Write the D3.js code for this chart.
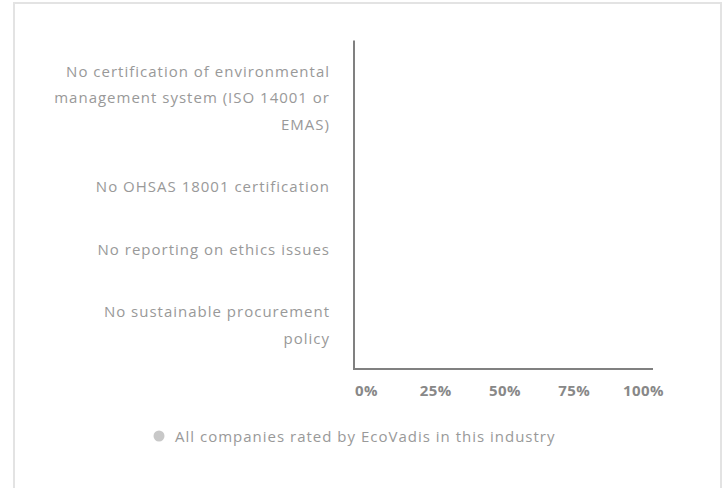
<!DOCTYPE html>
<html>
<head>
<meta charset="utf-8">
<script src="https://cdn.jsdelivr.net/npm/d3@7"></script>
<style>
  body { margin: 0; background: #fff; }
  svg { display: block; font-family: "Open Sans", "Noto Sans", sans-serif; }
</style>
</head>
<body>
<script>
// chart data
var categories = [
  ['No certification of environmental', 'management system (ISO 14001 or', 'EMAS)'],
  ['No OHSAS 18001 certification'],
  ['No reporting on ethics issues'],
  ['No sustainable procurement', 'policy']
];
var industryValues = [0, 0, 0, 0];
var tickValues = [0, 25, 50, 75, 100];
var seriesName = 'All companies rated by EcoVadis in this industry';

var width = 728, height = 488;
var lineH = 26.5, rowPad = 18;
var plotTop = 40.5, axisX = 354, labelRight = 330;

var svg = d3.select(document.body).append('svg')
    .attr('width', width)
    .attr('height', height);

// panel border
svg.append('rect')
    .attr('x', 14).attr('y', 3)
    .attr('width', 707).attr('height', 520)
    .attr('fill', 'none')
    .attr('stroke', '#e3e3e3')
    .attr('stroke-width', 2);

// rows grow with the number of label lines
var rows = [], yPos = plotTop;
categories.forEach(function(lines, i) {
  var h = lines.length * lineH + 2 * rowPad;
  rows.push({lines: lines, value: industryValues[i], y0: yPos, h: h});
  yPos += h;
});
var plotBottom = yPos;

var x = d3.scaleLinear().domain([0, 100]).range([axisX, 653]);

// bars (all zero in the reference)
svg.selectAll('.bar').data(rows).enter()
    .append('rect')
    .attr('class', 'bar')
    .attr('x', x(0))
    .attr('y', function(d) { return d.y0 + d.h / 2 - 10; })
    .attr('height', 20)
    .attr('width', function(d) { return x(d.value) - x(0); })
    .attr('fill', '#c8c8c8');

// category labels
var lab = svg.selectAll('.cat').data(rows).enter()
    .append('text')
    .attr('class', 'cat')
    .attr('text-anchor', 'end')
    .attr('font-size', 15)
    .attr('letter-spacing', 1)
    .attr('fill', '#999');
lab.selectAll('tspan').data(function(d) {
      var first = d.y0 + d.h / 2 - (d.lines.length - 1) * lineH / 2 + 5;
      return d.lines.map(function(t, j) { return {t: t, y: first + j * lineH}; });
    }).enter()
    .append('tspan')
    .attr('x', labelRight)
    .attr('y', function(d) { return d.y; })
    .text(function(d) { return d.t; });

// axes lines
svg.append('line')
    .attr('x1', axisX).attr('x2', axisX)
    .attr('y1', plotTop).attr('y2', plotBottom)
    .attr('stroke', '#808080').attr('stroke-width', 2);
svg.append('line')
    .attr('x1', axisX - 1).attr('x2', x(100))
    .attr('y1', plotBottom - 1).attr('y2', plotBottom - 1)
    .attr('stroke', '#808080').attr('stroke-width', 2);

// tick labels
var xl = d3.scaleLinear().domain([0, 100]).range([366, 643]);
var gx = svg.append('g')
    .attr('transform', 'translate(0,395.5)')
    .call(d3.axisBottom(xl).tickValues(tickValues).tickSize(0)
        .tickFormat(function(d) { return d + '%'; }));
gx.select('.domain').remove();
gx.selectAll('text')
    .attr('y', 0).attr('dy', 0)
    .attr('font-family', '"Open Sans", sans-serif')
    .attr('font-size', 15)
    .attr('letter-spacing', 0.4)
    .attr('font-weight', 'bold')
    .attr('fill', '#888');

// legend
var leg = svg.append('g').attr('transform', 'translate(159,436)');
leg.append('circle').attr('r', 5.5).attr('fill', '#c8c8c8');
leg.append('text')
    .attr('x', 16).attr('y', 5.5)
    .attr('font-size', 15)
    .attr('letter-spacing', 1)
    .attr('fill', '#999')
    .text(seriesName);
</script>
</body>
</html>
